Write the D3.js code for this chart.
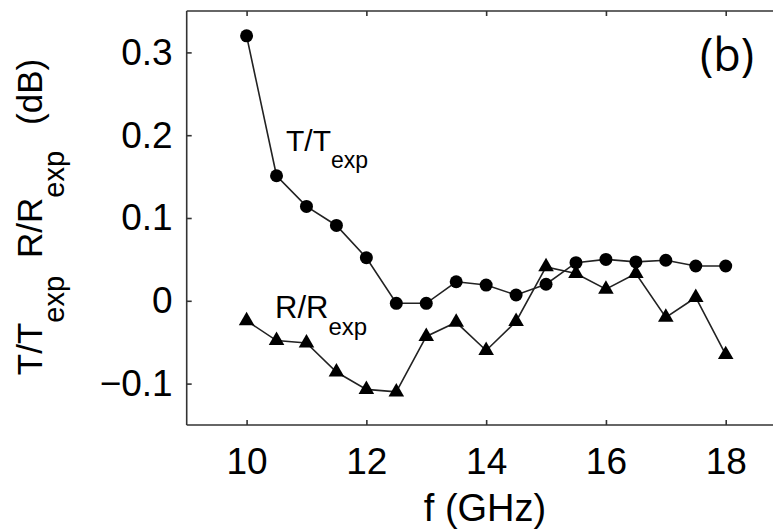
<!DOCTYPE html>
<html>
<head>
<meta charset="utf-8">
<script src="https://cdn.jsdelivr.net/npm/d3@7"></script>
<style>
  html, body { margin: 0; padding: 0; background: #fff; }
  svg { display: block; }
  text { font-family: "Liberation Sans", Arial, sans-serif; fill: #000; }
</style>
</head>
<body>
<svg id="chart" width="773" height="532"></svg>
<script>
// Frequency points (GHz)
const freq = [10, 10.5, 11, 11.5, 12, 12.5, 13, 13.5, 14, 14.5, 15, 15.5, 16, 16.5, 17, 17.5, 18];
// Transmission ratio T/Texp (dB)
const tRatio = [0.320, 0.151, 0.114, 0.091, 0.052, -0.003, -0.003, 0.023, 0.019, 0.007, 0.020, 0.046, 0.050, 0.047, 0.049, 0.042, 0.042];
// Reflection ratio R/Rexp (dB)
const rRatio = [-0.024, -0.048, -0.051, -0.086, -0.107, -0.110, -0.043, -0.026, -0.060, -0.025, 0.041, 0.033, 0.014, 0.033, -0.020, 0.004, -0.065];
// Axis ticks
const xTicks = [10, 12, 14, 16, 18];
const yTicks = [-0.1, 0, 0.1, 0.2, 0.3];

const svg = d3.select("#chart");

const x = d3.scaleLinear().domain([9, 19]).range([186.7, 785.6]);
const y = d3.scaleLinear().domain([-0.15, 0.35]).range([425, 11]);

const axisColor = "#333";
const tickLen = 5;

// Frame: left, bottom and top lines (right side runs past the canvas)
const frame = svg.append("g").attr("stroke", axisColor).attr("stroke-width", 1.6).attr("fill", "none");
frame.append("line").attr("x1", x(9)).attr("x2", x(9)).attr("y1", y(0.35)).attr("y2", y(-0.15));
frame.append("line").attr("x1", x(9)).attr("x2", x(19)).attr("y1", y(-0.15)).attr("y2", y(-0.15));
frame.append("line").attr("x1", x(9)).attr("x2", x(19)).attr("y1", y(0.35)).attr("y2", y(0.35));
frame.append("line").attr("x1", x(19)).attr("x2", x(19)).attr("y1", y(0.35)).attr("y2", y(-0.15));

const fmtY = v => v === 0 ? "0" : (v < 0 ? "\u2212" + d3.format(".1f")(-v) : d3.format(".1f")(v));

// Left axis: inward ticks, labels on the outside
const yAxis = d3.axisLeft(y).tickValues(yTicks).tickSize(-tickLen).tickPadding(14).tickFormat(fmtY);
const gy = svg.append("g").attr("transform", `translate(${x(9)},0)`).call(yAxis);

// Bottom axis
const xAxis = d3.axisBottom(x).tickValues(xTicks).tickSize(-tickLen).tickPadding(23).tickFormat(d3.format("d"));
const gx = svg.append("g").attr("transform", `translate(0,${y(-0.15)})`).call(xAxis);

// Top axis ticks only
const xTop = d3.axisTop(x).tickValues(xTicks).tickSize(-tickLen).tickFormat("");
const gt = svg.append("g").attr("transform", `translate(0,${y(0.35)})`).call(xTop);

[gx, gy, gt].forEach(g => {
  g.select(".domain").remove();
  g.selectAll(".tick line").attr("stroke", axisColor).attr("stroke-width", 1.6);
  g.selectAll(".tick text").attr("fill", "#000")
    .style("font-family", "'Liberation Sans', Arial, sans-serif")
    .style("font-size", "37px");
});
gx.selectAll(".tick text").attr("dy", "0.71em");

// Series lines
const line = d3.line().x((d, i) => x(freq[i])).y(d => y(d));
svg.append("path").datum(tRatio).attr("d", line)
  .attr("fill", "none").attr("stroke", "#222").attr("stroke-width", 1.6);
svg.append("path").datum(rRatio).attr("d", line)
  .attr("fill", "none").attr("stroke", "#222").attr("stroke-width", 1.6);

// Markers: circles for T, triangles for R
svg.append("g").selectAll("circle").data(tRatio).join("circle")
  .attr("cx", (d, i) => x(freq[i])).attr("cy", d => y(d)).attr("r", 6.5).attr("fill", "#000");

const tri = d3.symbol().type(d3.symbolTriangle).size(105);
svg.append("g").selectAll("path").data(rRatio).join("path")
  .attr("d", tri)
  .attr("transform", (d, i) => `translate(${x(freq[i])},${y(d)})`)
  .attr("fill", "#000");

// Series labels inside the plot
function labelWithSub(g, main, sub, mainSize, subSize, shift) {
  const t = g.append("text").style("font-size", mainSize + "px");
  t.append("tspan").text(main);
  t.append("tspan").attr("dy", shift).style("font-size", subSize + "px").text(sub);
  return t;
}
labelWithSub(svg.append("g").attr("transform", "translate(286,151)"), "T/T", "exp", 30, 23, 17);
labelWithSub(svg.append("g").attr("transform", "translate(275,318)"), "R/R", "exp", 31, 24, 17);

// Panel tag
svg.append("text").attr("x", 754).attr("y", 71).attr("text-anchor", "end")
  .style("font-size", "45px").style("font-family", "'Open Sans', 'Liberation Sans', sans-serif").text("(b)");

// X axis title
svg.append("text").attr("x", 485).attr("y", 521).attr("text-anchor", "middle")
  .style("font-size", "38px").text("f (GHz)");

// Y axis title, rotated
const yt = svg.append("text").attr("transform", "translate(42,217) rotate(-90)")
  .attr("text-anchor", "middle").style("font-size", "35px");
yt.append("tspan").text("T/T");
yt.append("tspan").attr("dy", 22).style("font-size", "29px").text("exp");
yt.append("tspan").attr("dy", -22).attr("dx", 18).text("R/R");
yt.append("tspan").attr("dy", 22).style("font-size", "29px").text("exp");
yt.append("tspan").attr("dy", -22).attr("dx", 26).text("(dB)");
</script>
</body>
</html>
